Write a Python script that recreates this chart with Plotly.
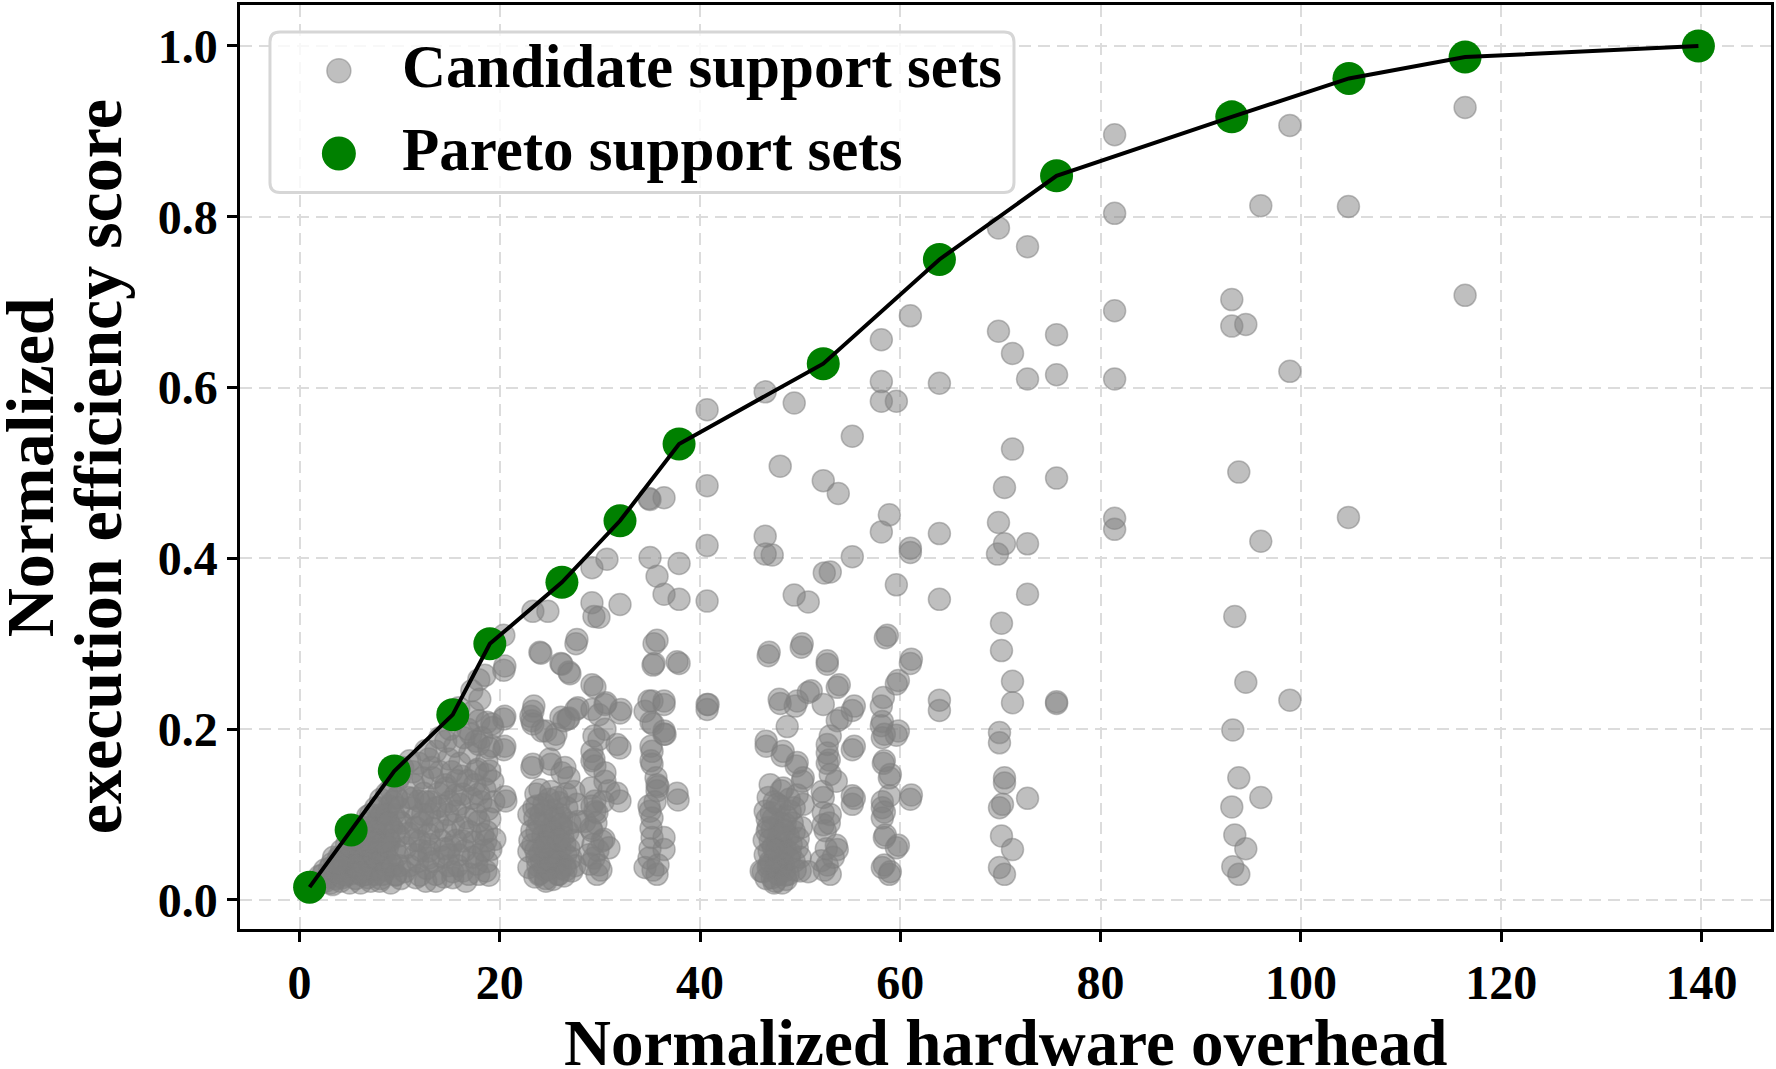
import plotly.graph_objects as go

# ---------------- data ----------------
# Pareto front (hardware overhead, efficiency score)
pareto_x = [1.0, 5.15, 9.46, 15.3, 19.0, 26.2, 32.0, 37.9, 52.3, 63.9, 75.6, 93.1, 104.8, 116.4, 139.7]
pareto_y = [0.015, 0.082, 0.151, 0.217, 0.300, 0.372, 0.444, 0.534, 0.628, 0.750, 0.848, 0.917, 0.962, 0.987, 1.000]

# Candidate support sets, read region by region
cand_a = [(1.5,0.020),(2.1,0.020),(2.0,0.028),(2.6,0.022),(2.5,0.035),(3.1,0.020),(3.0,0.030),(3.2,0.042),
          (3.6,0.025),(3.5,0.040),(3.4,0.050),(4.1,0.022),(4.0,0.035),(3.9,0.050),(4.2,0.058),(4.6,0.030),
          (4.5,0.045),(4.7,0.065),(5.0,0.020),(5.1,0.040),(4.9,0.055),(5.2,0.072),(5.6,0.025),(5.5,0.050),
          (5.4,0.065),(5.7,0.080),(6.1,0.020),(6.0,0.045),(5.9,0.060),(6.2,0.085),(6.6,0.030),(6.5,0.050),
          (6.4,0.070),(6.7,0.090),(7.1,0.022),(7.0,0.040),(6.9,0.060),(7.2,0.080),(7.1,0.100),(7.6,0.030),
          (7.4,0.050),(7.5,0.070),(7.7,0.090),(7.6,0.108),(8.1,0.025),(8.0,0.045),(7.9,0.065),(8.2,0.100),
          (8.1,0.118),(8.6,0.035),(8.5,0.055),(8.4,0.080),(8.7,0.125),(9.1,0.020),(9.0,0.045),(8.9,0.070),
          (9.2,0.085),(9.0,0.110),(9.1,0.130),(9.6,0.030),(9.5,0.060),(9.4,0.100),(9.7,0.120),(9.8,0.140),
          (10.1,0.025),(10.0,0.040),(9.9,0.075),(10.2,0.090),(10.0,0.145),(2.3,0.029),(3.3,0.018),(4.6,0.029),
          (5.3,0.053),(6.3,0.076),(6.3,0.029),(7.0,0.045),(7.3,0.061),(8.0,0.022),(8.0,0.108),(8.3,0.088),
          (8.6,0.045),(9.0,0.069),(9.6,0.029),(9.7,0.119),(10.0,0.092),(6.8,0.098),(3.0,0.037),(4.0,0.049),
          (2.8,0.026),(3.7,0.033),(4.4,0.038),(4.8,0.048),(5.3,0.031),(5.8,0.037),(6.2,0.055),(6.6,0.064),
          (7.3,0.035),(7.8,0.056),(8.3,0.030),(8.8,0.062),(9.3,0.040),(9.8,0.052),(5.6,0.072),(6.9,0.085),
          (7.9,0.095),(8.7,0.100),(9.3,0.115),(9.9,0.108),(4.3,0.026),(5.5,0.040),(6.8,0.026),(7.6,0.080),
          (8.4,0.068),(9.5,0.080),(3.8,0.043),(6.0,0.032),(7.2,0.068),(8.9,0.090)]

cand_b = [(10.3,0.155),(10.6,0.061),(11.0,0.163),(11.3,0.119),(11.3,0.150),(11.6,0.096),(11.6,0.085),
          (11.6,0.053),(11.6,0.026),(11.9,0.116),(11.9,0.160),(12.0,0.069),(12.0,0.029),(12.3,0.143),
          (12.6,0.115),(12.6,0.175),(12.6,0.022),(12.9,0.165),(12.9,0.077),(12.9,0.057),(12.9,0.049),
          (13.3,0.143),(13.3,0.084),(13.6,0.108),(13.6,0.174),(13.6,0.030),(13.6,0.022),(14.3,0.050),
          (14.6,0.135),(14.6,0.186),(14.6,0.081),(14.6,0.131),(14.9,0.040),(14.9,0.053),(15.3,0.026),
          (15.3,0.033),(15.6,0.104),(15.6,0.123),(15.9,0.053),(15.9,0.225),(16.3,0.124),(16.3,0.085),
          (16.3,0.069),(16.3,0.034),(16.6,0.022),(17.1,0.194),(17.2,0.119),(17.2,0.245),(17.3,0.050),
          (17.6,0.100),(17.6,0.186),(17.6,0.151),(17.8,0.153),(17.9,0.210),(17.9,0.258),(17.9,0.182),
          (17.9,0.124),(17.9,0.092),(17.9,0.053),(17.9,0.030),(18.3,0.077),(18.5,0.263),(18.6,0.034),
          (18.6,0.147),(18.6,0.069),(18.7,0.208),(18.7,0.163),(18.7,0.080),(18.7,0.045),(18.8,0.106),
          (18.9,0.178),(18.9,0.029),(19.0,0.151),(19.1,0.059),(19.2,0.206),(19.3,0.139),(19.3,0.202),
          (19.5,0.071),(14.0,0.190),(15.0,0.200),(16.0,0.160),(15.2,0.150),(16.8,0.140),(13.0,0.100),
          (14.2,0.110),(11.0,0.040),(12.2,0.090),(15.6,0.070),(16.8,0.200),
          (10.5,0.033),(10.9,0.078),(11.2,0.108),(11.4,0.135),(11.8,0.045),(12.1,0.058),(12.4,0.125),
          (12.7,0.037),(13.0,0.065),(13.2,0.155),(13.4,0.045),(13.8,0.092),(13.9,0.125),(14.1,0.070),
          (14.4,0.027),(14.8,0.100),(14.9,0.165),(15.1,0.062),(15.4,0.088),(15.5,0.180),(15.8,0.040),
          (16.0,0.112),(16.2,0.145),(16.5,0.058),(16.7,0.096),(16.9,0.030),(17.0,0.172),(17.4,0.068),
          (17.5,0.135),(17.7,0.042),(18.1,0.115),(18.2,0.190),(18.4,0.058),(18.5,0.130),(19.0,0.095),
          (19.4,0.115),(10.8,0.120),(11.5,0.070),(12.3,0.100),(13.1,0.115),(14.0,0.150),(14.5,0.060),
          (15.0,0.115),(15.7,0.140),(16.4,0.190),(17.0,0.080),(17.3,0.220),(18.0,0.235),(19.2,0.180)]

cand_c = [(20.4,0.269),(20.4,0.310),(20.4,0.212),(20.4,0.176),(20.5,0.215),(20.5,0.180),(20.5,0.121),
          (20.6,0.116),(20.5,0.274),(22.9,0.100),(22.9,0.057),(22.9,0.038),(23.1,0.215),(23.2,0.210),
          (23.2,0.155),(23.2,0.081),(23.3,0.338),(23.3,0.221),(23.3,0.206),(23.3,0.159),(23.3,0.065),
          (23.4,0.227),(23.5,0.096),(23.6,0.124),(23.7,0.110),(23.7,0.080),(23.7,0.049),(23.9,0.030),
          (24.0,0.290),(24.0,0.129),(24.0,0.031),(24.1,0.289),(24.2,0.198),(24.6,0.198),(24.6,0.104),
          (24.6,0.053),(24.6,0.022),(24.6,0.025),(24.8,0.338),(24.8,0.062),(24.9,0.118),(24.9,0.077),
          (25.0,0.165),(25.1,0.127),(25.1,0.084),(25.1,0.045),(25.1,0.159),(25.4,0.188),(25.5,0.096),
          (25.5,0.041),(25.6,0.194),(25.9,0.114),(25.9,0.030),(26.1,0.277),(26.1,0.214),(26.1,0.037),
          (26.2,0.276),(26.2,0.149),(26.2,0.096),(26.2,0.085),(26.4,0.210),(26.5,0.155),(26.5,0.065),
          (26.6,0.124),(26.6,0.053),(26.8,0.212),(26.8,0.080),(26.9,0.267),(26.9,0.143),(26.9,0.213),
          (27.0,0.265),(27.1,0.049),(27.2,0.034),(27.4,0.127),(27.6,0.300),(27.6,0.223),(27.7,0.305),
          (27.7,0.112),(27.8,0.225),(27.8,0.092),(28.5,0.092),(28.9,0.053),(29.1,0.131),(29.1,0.084),
          (29.2,0.389),(29.2,0.348),(29.2,0.252),(29.2,0.223),(29.2,0.174),(29.2,0.163),(29.2,0.110),
          (29.2,0.081),(29.4,0.332),(29.4,0.192),(29.4,0.165),(29.4,0.049),(29.5,0.249),(29.5,0.157),
          (29.5,0.116),(29.5,0.104),(29.7,0.102),(29.7,0.030),(29.9,0.331),(29.9,0.217),(29.9,0.188),
          (29.9,0.041),(30.2,0.069),(30.4,0.071),(30.5,0.229),(30.5,0.200),(30.5,0.149),(30.5,0.139),
          (30.6,0.231),(30.7,0.399),(30.9,0.128),(30.9,0.061),(31.7,0.182),(31.7,0.125),(24.5,0.035),
          (25.5,0.050),(26.5,0.040),(24.0,0.055),(25.0,0.070),(26.0,0.060),(24.5,0.090),(26.0,0.100),
          (23.8,0.040),(25.8,0.030),(24.3,0.075),(25.2,0.055),
          (23.0,0.070),(23.4,0.108),(23.5,0.027),(23.9,0.090),(24.2,0.044),(24.4,0.112),(24.7,0.068),
          (24.9,0.036),(25.3,0.105),(25.4,0.078),(25.6,0.062),(25.7,0.120),(26.0,0.045),(26.3,0.074),
          (26.4,0.028),(26.7,0.108),(26.9,0.060),(27.0,0.090),(27.3,0.070),(27.5,0.040),(24.1,0.100),
          (24.8,0.048),(25.3,0.024),(26.1,0.088),(23.6,0.058),(25.9,0.070),(24.4,0.062),(26.6,0.035),
          (29.3,0.065),(29.6,0.090),(29.8,0.058),(30.1,0.035),(29.0,0.042),(30.3,0.115)]

cand_d = [(32.0,0.346),(32.0,0.219),(32.0,0.178),(32.0,0.116),(32.1,0.223),(34.5,0.221),(34.5,0.038),
          (34.9,0.470),(34.9,0.233),(34.9,0.110),(34.9,0.049),(35.0,0.469),(35.0,0.401),(35.0,0.104),
          (35.1,0.208),(35.1,0.180),(35.1,0.163),(35.1,0.084),(35.2,0.233),(35.2,0.174),(35.2,0.159),
          (35.2,0.096),(35.2,0.073),(35.3,0.275),(35.3,0.206),(35.4,0.300),(35.4,0.277),(35.6,0.143),
          (35.7,0.379),(35.7,0.304),(35.7,0.135),(35.7,0.128),(35.7,0.030),(35.8,0.133),(35.8,0.041),
          (36.4,0.471),(36.4,0.358),(36.4,0.233),(36.4,0.229),(36.4,0.198),(36.4,0.194),(36.4,0.073),
          (36.4,0.059),(36.5,0.194),(37.7,0.279),(37.7,0.125),(37.8,0.117),(37.9,0.394),(37.9,0.352),
          (37.9,0.277),(40.7,0.574),(40.7,0.485),(40.7,0.415),(40.7,0.350),(40.7,0.229),(40.7,0.223),
          (40.8,0.229),(35.0,0.060),(35.5,0.115),(35.3,0.035)]

cand_e = [(46.5,0.595),(49.4,0.582),(48.0,0.508),(52.3,0.491),(53.8,0.476),(55.2,0.543),(58.9,0.451),
          (58.1,0.431),(46.5,0.426),(46.5,0.405),(47.2,0.404),(55.2,0.402),(61.0,0.412),(61.0,0.407),
          (52.4,0.383),(53.0,0.384),(59.6,0.369),(49.4,0.357),(50.8,0.349),(58.7,0.310),(58.5,0.307),
          (46.8,0.286),(50.1,0.296),(52.7,0.276),(61.0,0.277),(53.7,0.249),(59.6,0.253),(50.8,0.243),
          (48.0,0.230),(49.5,0.227),(52.3,0.229),(55.2,0.222),(58.3,0.237),(58.1,0.227),(48.7,0.203),
          (53.7,0.210),(58.1,0.204),(46.6,0.180),(53.0,0.192),(55.2,0.176),(58.2,0.190),(59.6,0.193),
          (48.2,0.169),(52.7,0.172),(49.6,0.157),(52.7,0.160),(58.3,0.160),(47.0,0.135),(50.2,0.139),
          (53.6,0.139),(58.9,0.143),(48.1,0.128),(52.3,0.120),(55.2,0.122),(55.2,0.112),(61.0,0.118),
          (58.9,0.122),(46.5,0.104),(49.4,0.108),(52.3,0.102),(58.2,0.108),(58.2,0.096),(46.8,0.085),
          (48.5,0.089),(50.1,0.085),(52.5,0.081),(58.4,0.073),(47.7,0.069),(49.1,0.065),(53.7,0.059),
          (59.6,0.061),(46.5,0.053),(48.1,0.050),(50.0,0.050),(52.1,0.046),(46.8,0.038),(48.4,0.034),
          (50.0,0.034),(53.0,0.030),(58.2,0.038),(58.9,0.030),(47.2,0.026),(47.4,0.020),(48.8,0.030),
          (46.1,0.034),(46.9,0.290),(50.2,0.300),(52.7,0.280),(53.9,0.252),(55.4,0.227),(61.1,0.282),
          (59.8,0.257),(47.9,0.235),(49.7,0.233),(51.1,0.245),(54.1,0.213),(58.2,0.209),(58.4,0.194),
          (59.8,0.198),(46.6,0.186),(48.3,0.174),(49.7,0.161),(50.3,0.143),(52.7,0.182),(52.9,0.164),
          (53.0,0.147),(55.4,0.180),(58.4,0.163),(59.0,0.147),(61.1,0.123),(48.3,0.131),(49.7,0.123),
          (52.2,0.127),(55.4,0.119),(58.2,0.115),(58.4,0.103),(47.7,0.112),(49.0,0.104),(50.3,0.112),
          (53.0,0.100),(46.7,0.080),(49.4,0.080),(52.3,0.088),(53.6,0.064),(58.5,0.076),(59.8,0.064),
          (46.9,0.057),(48.1,0.065),(49.7,0.061),(46.9,0.041),(48.1,0.037),(49.4,0.045),(50.8,0.033),
          (52.7,0.041),(58.4,0.041),(59.0,0.033),(47.5,0.022),(48.5,0.029),(46.3,0.033),(47.5,0.050),
          (48.5,0.060),(47.0,0.070),(48.0,0.090),(49.0,0.055),(47.8,0.045),(48.8,0.075),(47.3,0.095),
          (46.8,0.120),(47.8,0.030),(48.2,0.020),(47.0,0.045),(58.1,0.656),(58.1,0.607),(58.1,0.584),
          (59.6,0.584),(61.0,0.684),
          (46.4,0.070),(46.6,0.025),(47.1,0.102),(47.3,0.062),(47.6,0.038),(47.9,0.078),(48.0,0.110),
          (48.3,0.042),(48.6,0.098),(48.9,0.048),(49.2,0.090),(49.5,0.035),(47.2,0.083),(48.6,0.024),
          (47.6,0.058),(48.4,0.082),(49.8,0.072),(46.7,0.095),(47.4,0.115),(48.9,0.118),(52.6,0.060),
          (52.9,0.090),(53.3,0.050),(52.4,0.035)]

cand_f = [(63.9,0.605),(63.9,0.429),(63.9,0.352),(63.9,0.234),(63.9,0.222),(69.8,0.787),(72.7,0.765),
          (69.8,0.666),(75.6,0.662),(71.2,0.640),(72.7,0.610),(75.6,0.615),(71.2,0.528),(70.4,0.483),
          (75.6,0.494),(69.8,0.442),(70.4,0.417),(69.7,0.405),(72.7,0.417),(72.7,0.358),(70.1,0.324),
          (70.1,0.292),(71.2,0.256),(71.2,0.231),(75.6,0.232),(75.6,0.230),(69.9,0.196),(69.9,0.184),
          (70.4,0.143),(70.4,0.137),(72.7,0.119),(69.9,0.108),(70.2,0.112),(70.1,0.075),(71.2,0.059),
          (69.9,0.038),(70.4,0.030),(81.4,0.896),(81.4,0.804),(81.4,0.690),(81.4,0.610),(81.4,0.447),
          (81.4,0.434)]

cand_g = [(93.1,0.703),(93.1,0.672),(94.5,0.674),(98.9,0.907),(116.4,0.928),(96.0,0.813),(104.75,0.812),
          (116.4,0.708),(98.9,0.619),(93.8,0.501),(104.75,0.448),(96.0,0.420),(93.4,0.332),(94.5,0.255),
          (98.9,0.234),(93.2,0.199),(93.8,0.143),(96.0,0.120),(93.1,0.109),(93.4,0.076),(94.5,0.060),
          (93.2,0.039),(93.8,0.030)]

x_ticks = [0, 20, 40, 60, 80, 100, 120, 140]
y_ticks = [0.0, 0.2, 0.4, 0.6, 0.8, 1.0]
x_title = "Normalized hardware overhead"
y_title_1 = "Normalized"
y_title_2 = "execution efficiency score"
legend_labels = ["Candidate support sets", "Pareto support sets"]

# ---------------- build ----------------
cand = cand_a + cand_b + cand_c + cand_d + cand_e + cand_f + cand_g
cand_x = [p[0] for p in cand]
cand_y = [p[1] for p in cand]

W, H = 1776, 1069
L, R, T, B = 240, 1773, 2, 929
FONT = "Liberation Serif"
GRAY = "rgba(128,128,128,0.5)"
GREEN = "#008000"


def xp(px):
    return (px - L) / (R - L)


def yp(py):
    return (B - py) / (B - T)


fig = go.Figure()
fig.add_trace(go.Scatter(
    x=cand_x, y=cand_y, mode="markers", name=legend_labels[0], showlegend=False,
    marker=dict(size=22, color=GRAY, line=dict(color=GRAY, width=1.5)),
))
fig.add_trace(go.Scatter(
    x=pareto_x, y=pareto_y, mode="markers", name=legend_labels[1], showlegend=False,
    marker=dict(size=33, color=GREEN, line=dict(width=0)),
))
fig.add_trace(go.Scatter(
    x=pareto_x, y=pareto_y, mode="lines", showlegend=False,
    line=dict(color="black", width=4),
))

axis_common = dict(
    showline=True, mirror=True, linecolor="black", linewidth=2.5,
    ticks="outside", ticklen=10, tickwidth=2.5, tickcolor="black",
    showgrid=True, gridcolor="#dcdcdc", gridwidth=2, griddash="12px,7px",
    zeroline=False,
    tickfont=dict(family=FONT, size=48, color="black", weight="bold"),
)

fig.update_xaxes(range=[-5.95, 146.95], tickmode="array", tickvals=x_ticks,
                 ticktext=[str(v) for v in x_ticks], **axis_common)
fig.update_yaxes(range=[-0.034, 1.048], tickmode="array", tickvals=y_ticks,
                 ticktext=[f"{v:.1f}" for v in y_ticks], **axis_common)

# legend drawn by hand (large markers like the reference)
bx0, bx1, by0, by1 = xp(270), xp(1015), yp(190), yp(29)
rx, ry = 10 / (R - L), 10 / (B - T)
box_path = (f"M {bx0+rx},{by1} L {bx1-rx},{by1} Q {bx1},{by1} {bx1},{by1-ry} "
            f"L {bx1},{by0+ry} Q {bx1},{by0} {bx1-rx},{by0} L {bx0+rx},{by0} "
            f"Q {bx0},{by0} {bx0},{by0+ry} L {bx0},{by1-ry} Q {bx0},{by1} {bx0+rx},{by1} Z")
shapes = [
    dict(type="path", path=box_path, xref="paper", yref="paper", layer="above",
         fillcolor="rgba(255,255,255,0.8)", line=dict(color="#d6d6d6", width=3)),
    dict(type="circle", xref="paper", yref="paper", xsizemode="pixel", ysizemode="pixel",
         xanchor=xp(339), yanchor=yp(68), x0=-12, x1=12, y0=-12, y1=12, layer="above",
         fillcolor=GRAY, line=dict(color=GRAY, width=1.5)),
    dict(type="circle", xref="paper", yref="paper", xsizemode="pixel", ysizemode="pixel",
         xanchor=xp(339), yanchor=yp(151), x0=-17, x1=17, y0=-17, y1=17, layer="above",
         fillcolor=GREEN, line=dict(color=GREEN, width=0)),
]

x_title_font = dict(family=FONT, size=65, color="black", weight="bold")
y_title_font = dict(family=FONT, size=68, color="black", weight="bold")
legend_font = dict(family=FONT, size=61, color="black", weight="bold")
annotations = [
    dict(text=legend_labels[0], x=xp(400), y=yp(64), xref="paper", yref="paper",
         xanchor="left", yanchor="middle", showarrow=False, font=legend_font),
    dict(text=legend_labels[1], x=xp(400), y=yp(147), xref="paper", yref="paper",
         xanchor="left", yanchor="middle", showarrow=False, font=legend_font),
    dict(text=x_title, x=0.5, y=yp(1043), xref="paper", yref="paper",
         xanchor="center", yanchor="middle", showarrow=False, font=x_title_font),
    dict(text=y_title_1, x=xp(30), y=0.5, xref="paper", yref="paper", textangle=-90,
         xanchor="center", yanchor="middle", showarrow=False, font=y_title_font),
    dict(text=y_title_2, x=xp(98), y=0.5, xref="paper", yref="paper", textangle=-90,
         xanchor="center", yanchor="middle", showarrow=False, font=y_title_font),
]

fig.update_layout(
    width=W, height=H,
    margin=dict(l=L, r=W - R, t=T, b=H - B),
    paper_bgcolor="white", plot_bgcolor="white",
    shapes=shapes, annotations=annotations,
    showlegend=False,
)

fig.write_html("out.html")
